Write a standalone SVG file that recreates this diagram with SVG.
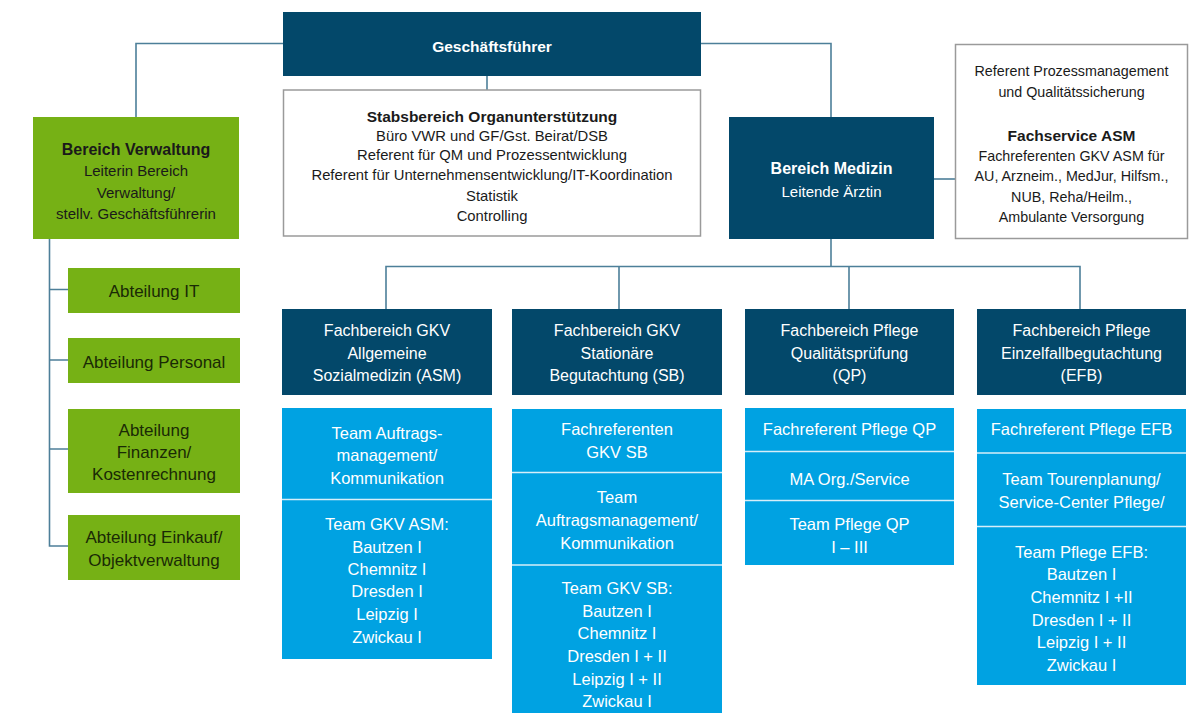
<svg xmlns="http://www.w3.org/2000/svg" width="1189" height="713" viewBox="0 0 1189 713">
<style>
text{font-family:"Liberation Sans",Arial,sans-serif;text-anchor:middle}
.dark{fill:#03486a}
.green{fill:#76b115}
.blue{fill:#00a2e2}
.white{fill:#fff;stroke:#9a9a9a;stroke-width:1.5}
.conn{fill:none;stroke:#4d7f99;stroke-width:1.6}
.div{stroke:#d6eef9;stroke-width:1.6}
.tw{fill:#fff}
.tk{fill:#1a1a1a}
.gt{fill:#1a2a05;font-size:17px}
.hd{fill:#fff;font-size:16px}
.bt{fill:#fff;font-size:16.5px}
.b{font-weight:bold}
</style>
<rect width="1189" height="713" fill="#fff"/>
<g id="connectors">
<path class="conn" d="M283 43.5H136V117"/>
<path class="conn" d="M701 43.5H831V117"/>
<path class="conn" d="M487 76V90"/>
<path class="conn" d="M934 179H955"/>
<path class="conn" d="M49.5 239V546H68"/>
<path class="conn" d="M49.5 289.5H68M49.5 360H68M49.5 449H68"/>
<path class="conn" d="M831 239V266.5"/>
<path class="conn" d="M386 309V266.5H1080V309"/>
<path class="conn" d="M619 266.5V309M849 266.5V309"/>
</g>
<g id="geschaeftsfuehrer">
<rect class="dark" x="283" y="12" width="418" height="64"/>
<text class="tw b" x="492" y="52" font-size="15.5">Geschäftsführer</text>
</g>
<g id="stabsbereich">
<rect class="white" x="283.5" y="90" width="417" height="146"/>
<text class="tk b" x="492" y="121.5" font-size="15.5">Stabsbereich Organunterstützung</text>
<text class="tk" x="492" y="140.5" font-size="14.8">Büro VWR und GF/Gst. Beirat/DSB</text>
<text class="tk" x="492" y="160" font-size="14.8">Referent für QM und Prozessentwicklung</text>
<text class="tk" x="492" y="180" font-size="14.8">Referent für Unternehmensentwicklung/IT-Koordination</text>
<text class="tk" x="492" y="200.5" font-size="14.8">Statistik</text>
<text class="tk" x="492" y="221" font-size="14.8">Controlling</text>
</g>
<g id="bereich-verwaltung">
<rect class="green" x="33" y="117" width="206" height="122"/>
<text class="tk b" x="136" y="154.5" font-size="16">Bereich Verwaltung</text>
<text class="tk" x="136" y="176" font-size="15">Leiterin Bereich</text>
<text class="tk" x="136" y="198" font-size="15">Verwaltung/</text>
<text class="tk" x="136" y="218.5" font-size="15">stellv. Geschäftsführerin</text>
</g>
<g id="abteilung-it">
<rect class="green" x="68" y="268" width="172" height="45"/>
<text class="gt" x="154" y="297">Abteilung IT</text>
</g>
<g id="abteilung-personal">
<rect class="green" x="68" y="338" width="172" height="45"/>
<text class="gt" x="154" y="367.5">Abteilung Personal</text>
</g>
<g id="abteilung-finanzen">
<rect class="green" x="68" y="409" width="172" height="84"/>
<text class="gt" x="154" y="435.5">Abteilung</text>
<text class="gt" x="154" y="457.5">Finanzen/</text>
<text class="gt" x="154" y="480">Kostenrechnung</text>
</g>
<g id="abteilung-einkauf">
<rect class="green" x="68" y="515" width="172" height="65"/>
<text class="gt" x="154" y="543">Abteilung Einkauf/</text>
<text class="gt" x="154" y="565.5">Objektverwaltung</text>
</g>
<g id="bereich-medizin">
<rect class="dark" x="729" y="117" width="205" height="122"/>
<text class="tw b" x="831.5" y="173.5" font-size="16">Bereich Medizin</text>
<text class="tw" x="831.5" y="197" font-size="15">Leitende Ärztin</text>
</g>
<g id="fachservice-asm">
<rect class="white" x="955.5" y="44.5" width="232" height="194"/>
<text class="tk" x="1071.5" y="75.5" font-size="14.3">Referent Prozessmanagement</text>
<text class="tk" x="1071.5" y="96.5" font-size="14.3">und Qualitätssicherung</text>
<text class="tk b" x="1071.5" y="140.5" font-size="15.5">Fachservice ASM</text>
<text class="tk" x="1071.5" y="160.5" font-size="14.3">Fachreferenten GKV ASM für</text>
<text class="tk" x="1071.5" y="181" font-size="14.3">AU, Arzneim., MedJur, Hilfsm.,</text>
<text class="tk" x="1071.5" y="201.5" font-size="14.3">NUB, Reha/Heilm.,</text>
<text class="tk" x="1071.5" y="221.5" font-size="14.3">Ambulante Versorgung</text>
</g>
<g id="fb-asm">
<rect class="dark" x="282" y="309" width="210" height="86"/>
<text class="hd" x="387" y="336">Fachbereich GKV</text>
<text class="hd" x="387" y="358.5">Allgemeine</text>
<text class="hd" x="387" y="381">Sozialmedizin (ASM)</text>
<rect class="blue" x="282" y="408" width="210" height="251"/>
<line class="div" x1="282" y1="499.5" x2="492" y2="499.5"/>
<text class="bt" x="387" y="438.5">Team Auftrags-</text>
<text class="bt" x="387" y="461">management/</text>
<text class="bt" x="387" y="483.5">Kommunikation</text>
<text class="bt" x="387" y="529.5">Team GKV ASM:</text>
<text class="bt" x="387" y="552.5">Bautzen I</text>
<text class="bt" x="387" y="574.5">Chemnitz I</text>
<text class="bt" x="387" y="597">Dresden I</text>
<text class="bt" x="387" y="620">Leipzig I</text>
<text class="bt" x="387" y="642.5">Zwickau I</text>
</g>
<g id="fb-sb">
<rect class="dark" x="512" y="309" width="210" height="86"/>
<text class="hd" x="617" y="336">Fachbereich GKV</text>
<text class="hd" x="617" y="358.5">Stationäre</text>
<text class="hd" x="617" y="381">Begutachtung (SB)</text>
<rect class="blue" x="512" y="409" width="210" height="304"/>
<line class="div" x1="512" y1="472.5" x2="722" y2="472.5"/>
<line class="div" x1="512" y1="565" x2="722" y2="565"/>
<text class="bt" x="617" y="435">Fachreferenten</text>
<text class="bt" x="617" y="457.5">GKV SB</text>
<text class="bt" x="617" y="502.5">Team</text>
<text class="bt" x="617" y="525.5">Auftragsmanagement/</text>
<text class="bt" x="617" y="548.5">Kommunikation</text>
<text class="bt" x="617" y="593.5">Team GKV SB:</text>
<text class="bt" x="617" y="616.5">Bautzen I</text>
<text class="bt" x="617" y="638.5">Chemnitz I</text>
<text class="bt" x="617" y="661.5">Dresden I + II</text>
<text class="bt" x="617" y="684.5">Leipzig I + II</text>
<text class="bt" x="617" y="706.5">Zwickau I</text>
</g>
<g id="fb-qp">
<rect class="dark" x="745" y="309" width="209" height="86"/>
<text class="hd" x="849.5" y="336">Fachbereich Pflege</text>
<text class="hd" x="849.5" y="358.5">Qualitätsprüfung</text>
<text class="hd" x="849.5" y="381">(QP)</text>
<rect class="blue" x="745" y="408" width="209" height="157"/>
<line class="div" x1="745" y1="451.5" x2="954" y2="451.5"/>
<line class="div" x1="745" y1="500.5" x2="954" y2="500.5"/>
<text class="bt" x="849.5" y="435">Fachreferent Pflege QP</text>
<text class="bt" x="849.5" y="485">MA Org./Service</text>
<text class="bt" x="849.5" y="529.5">Team Pflege QP</text>
<text class="bt" x="849.5" y="552.5">I – III</text>
</g>
<g id="fb-efb">
<rect class="dark" x="977" y="309" width="209" height="86"/>
<text class="hd" x="1081.5" y="336">Fachbereich Pflege</text>
<text class="hd" x="1081.5" y="358.5">Einzelfallbegutachtung</text>
<text class="hd" x="1081.5" y="381">(EFB)</text>
<rect class="blue" x="977" y="409" width="209" height="276"/>
<line class="div" x1="977" y1="453" x2="1186" y2="453"/>
<line class="div" x1="977" y1="526.5" x2="1186" y2="526.5"/>
<text class="bt" x="1081.5" y="435">Fachreferent Pflege EFB</text>
<text class="bt" x="1081.5" y="485">Team Tourenplanung/</text>
<text class="bt" x="1081.5" y="508">Service-Center Pflege/</text>
<text class="bt" x="1081.5" y="557.5">Team Pflege EFB:</text>
<text class="bt" x="1081.5" y="579.5">Bautzen I</text>
<text class="bt" x="1081.5" y="603">Chemnitz I +II</text>
<text class="bt" x="1081.5" y="625.5">Dresden I + II</text>
<text class="bt" x="1081.5" y="648">Leipzig I + II</text>
<text class="bt" x="1081.5" y="670.5">Zwickau I</text>
</g>
</svg>
